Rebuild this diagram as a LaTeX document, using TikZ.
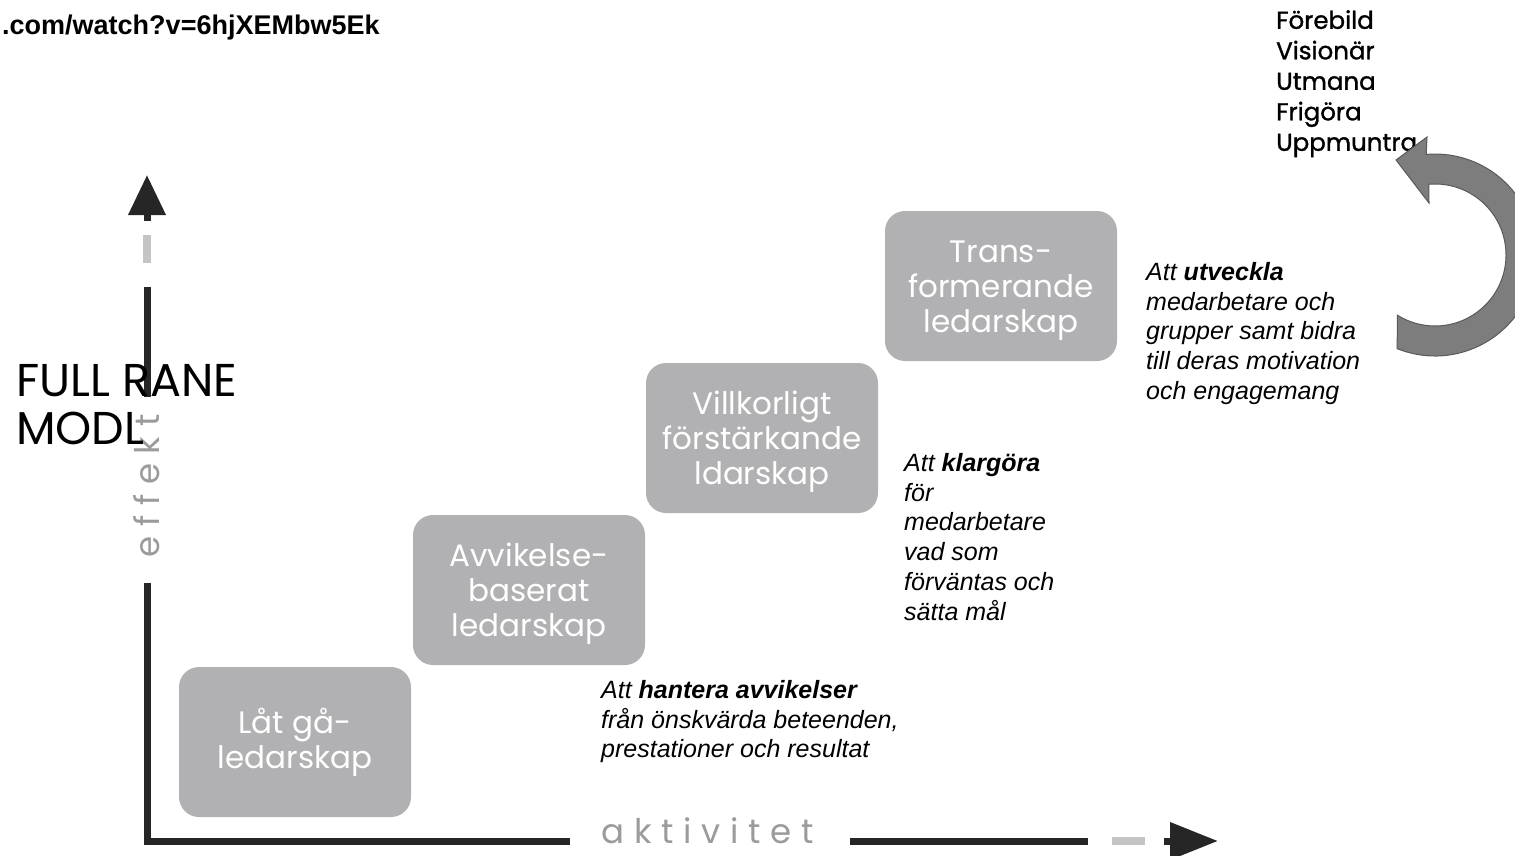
\documentclass[tikz,border=0pt]{standalone}
\usepackage{fontspec}
\setmainfont{Liberation Sans}
\newfontfamily\geofont{Poppins}
\newfontfamily\geomedium[FakeBold=1.2]{Poppins}
\newfontfamily\geospaced[LetterSpace=28.5]{Poppins}
\newcommand{\stagetop}{\rule{0pt}{31pt}}
\definecolor{boxgrey}{RGB}{177,177,180}
\definecolor{axisdark}{RGB}{38,38,38}
\definecolor{axislight}{RGB}{196,196,198}
\definecolor{labelgrey}{RGB}{155,155,157}
\definecolor{loopgrey}{RGB}{125,125,125}
\definecolor{loopedge}{RGB}{90,90,90}
\usetikzlibrary{arrows.meta,positioning}

\begin{document}
\begin{tikzpicture}[x=1pt, y=-1pt,
    stage/.style={rectangle, rounded corners=20pt, fill=boxgrey, text=white,
        minimum width=232pt, minimum height=150pt, inner sep=0pt, align=center,
        font=\geofont\fontsize{31}{35}\selectfont},
    aim/.style={anchor=north west, align=left, inner sep=0pt,
        font=\itshape\fontsize{25}{29.8}\selectfont},
    axisbar/.style={draw=axisdark, line width=7pt},
    axisgap/.style={draw=axislight, line width=8pt},
    axishead/.style={draw=axisdark, fill=axisdark, line width=7pt}]
    \useasboundingbox (0,0) rectangle (1515,856);

    % Axes
    \coordinate (corner) at (147,841);
    \coordinate (ybreak) at (147,583);
    \coordinate (ymidbot) at (147,397);
    \coordinate (ymidtop) at (147,287);
    \coordinate (ygapbot) at (147,263);
    \coordinate (ygaptop) at (147,235);
    \coordinate (ystem) at (147,221);
    \coordinate (ytip) at (147,175);
    \coordinate (xbreak) at (570,841);
    \coordinate (xmidleft) at (850,841);
    \coordinate (xmidright) at (1088,841);
    \coordinate (xgapleft) at (1112,841);
    \coordinate (xgapright) at (1145,841);
    \coordinate (xstem) at (1164,841);
    \coordinate (xtip) at (1218,841);

    \draw[axisbar] (ybreak) -- (corner) -- (xbreak);
    \draw[axisbar] (ymidbot) -- (ymidtop);
    \draw[axisgap] (ygapbot) -- (ygaptop);
    \draw[axishead, -{Triangle[length=40pt,width=36pt]}] (ystem) -- (ytip);
    \draw[axisbar] (xmidleft) -- (xmidright);
    \draw[axisgap] (xgapleft) -- (xgapright);
    \draw[axishead, -{Triangle[length=48pt,width=36pt]}] (xstem) -- (xtip);

    % Axis labels
    \node[anchor=base, inner sep=0pt, text=labelgrey,
        font=\geospaced\fontsize{34}{34}\selectfont] (activity) at (708,843) {aktivitet};
    \node[anchor=base, inner sep=0pt, text=labelgrey, rotate=90,
        font=\geospaced\fontsize{34}{34}\selectfont] (effect) at (159,486) {effekt};

    % Stages
    \node[stage] (letgo) at (295,742) {Låt gå-\\ledarskap};
    \node[stage] (deviation) at (529,590) {\stagetop Avvikelse-\\baserat\\ledarskap};
    \node[stage] (contingent) at (762,438) {\stagetop Villkorligt\\förstärkande\\ldarskap};
    \node[stage] (transform) at (1001,286) {\stagetop Trans-\\formerande\\ledarskap};

    % Aims
    \node[aim] (aimdeviation) at (601,680) {Att \textbf{hantera avvikelser}\\från önskvärda beteenden,\\prestationer och resultat};
    \node[aim] (aimcontingent) at (904,453) {Att \textbf{klargöra}\\för\\medarbetare\\vad som\\förväntas och\\sätta mål};
    \node[aim] (aimtransform) at (1146,262) {Att \textbf{utveckla}\\medarbetare och\\grupper samt bidra\\till deras motivation\\och engagemang};

    % Title and link
    \node[anchor=north west, align=left, inner sep=0pt,
        font=\geofont\fontsize{46}{48}\selectfont] (model) at (16,364) {FULL RANE\\MODL};
    \node[anchor=north west, inner sep=0pt,
        font=\bfseries\fontsize{27}{27}\selectfont] (link) at (2,15) {.com/watch?v=6hjXEMbw5Ek};

    % Traits
    \node[anchor=north west, align=left, inner sep=0pt,
        font=\geomedium\fontsize{24.5}{30.5}\selectfont] (traits) at (1276,10) {Förebild\\Visionär\\Utmana\\Frigöra\\Uppmuntra};

    % Loop arrow
    \coordinate (loopc) at (1435,255);
    \filldraw[fill=loopgrey, draw=loopedge, line width=1pt]
        ([shift={(112:101)}]loopc) arc[start angle=112, end angle=-95, radius=101]
        -- (1427,137) -- (1396,160) -- (1429,203)
        -- ([shift={(-95:71)}]loopc) arc[start angle=-95, end angle=122, radius=71] -- cycle;
\end{tikzpicture}
\end{document}
